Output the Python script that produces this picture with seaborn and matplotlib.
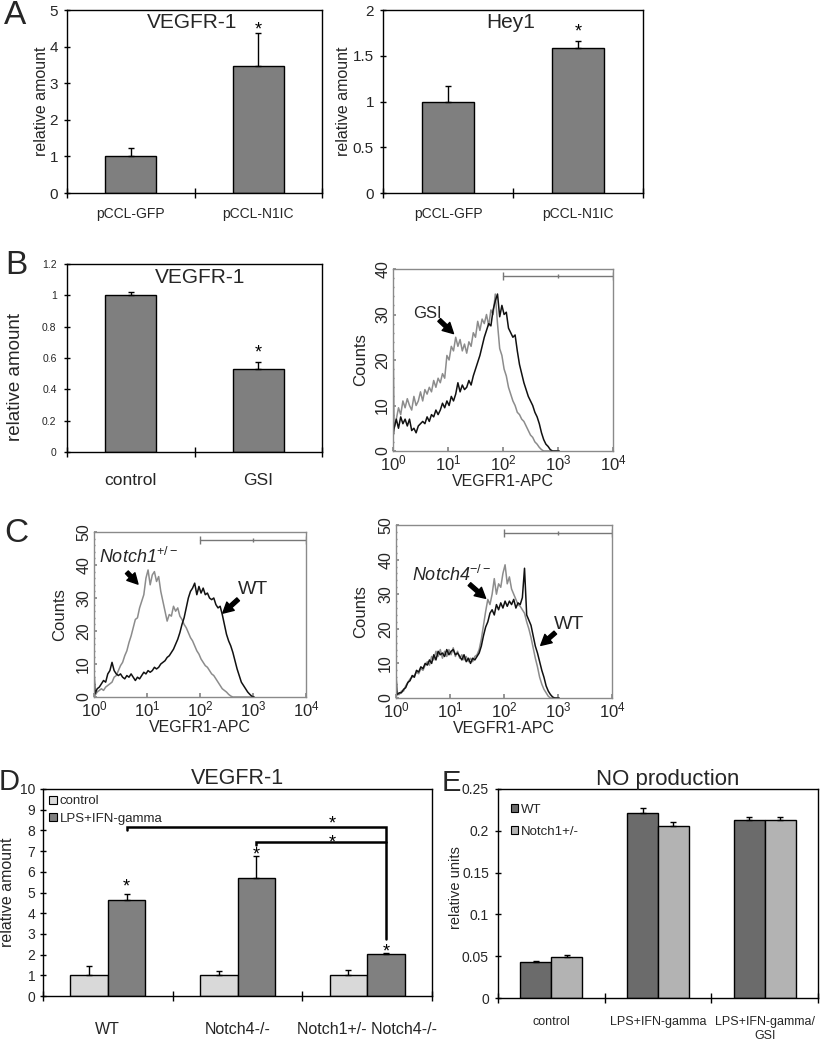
import numpy as np
import pandas as pd
import seaborn as sns
import matplotlib
matplotlib.use("Agg")
import matplotlib.pyplot as plt
from matplotlib.patches import Patch
from matplotlib.ticker import FuncFormatter, FixedLocator, LogLocator, NullFormatter, MultipleLocator
from matplotlib import font_manager

# ---------------- data ----------------
a_cats = ["pCCL-GFP", "pCCL-N1IC"]
a_vegfr1 = [1.00, 3.46]
a_vegfr1_err = [0.23, 0.90]
a_hey1 = [1.00, 1.59]
a_hey1_err = [0.17, 0.07]

b_cats = ["control", "GSI"]
b_vegfr1 = [1.00, 0.53]
b_vegfr1_err = [0.02, 0.045]

# flow-cytometry histograms: channel position in decades (10^x) and counts
hist_x_dec = [0.00, 0.02, 0.06, 0.10, 0.14, 0.18, 0.22, 0.26, 0.30, 0.34, 0.38, 0.42, 0.46,
              0.50, 0.54, 0.58, 0.62, 0.66, 0.70, 0.74, 0.78, 0.82, 0.86, 0.90, 0.94, 0.98,
              1.02, 1.06, 1.10, 1.14, 1.18, 1.22, 1.26, 1.30, 1.34, 1.38, 1.42, 1.46, 1.50,
              1.54, 1.58, 1.62, 1.66, 1.70, 1.74, 1.78, 1.82, 1.86, 1.90, 1.94, 1.98, 2.02,
              2.06, 2.10, 2.14, 2.18, 2.22, 2.26, 2.30, 2.34, 2.38, 2.42, 2.46, 2.50, 2.54,
              2.58, 2.62, 2.66, 2.70, 2.74, 2.78, 2.82, 2.86, 2.90, 2.94, 2.98, 3.02]

b_gsi_counts = [27, 5, 7, 9.5, 8, 11, 9.5, 11.5, 10, 9, 12, 10, 11,
                13, 11, 13.5, 12.5, 14, 13, 15.5, 14, 16, 15, 17, 16, 21,
                20, 23, 22, 25, 23, 24.5, 22, 23.5, 21.5, 24, 23, 26, 25,
                28.5, 26.5, 29, 28, 30, 27.5, 31, 30, 34.5, 28, 22.5, 21, 18,
                16.5, 14, 12.5, 11, 10, 8.5, 8, 7, 6.5, 5.5, 4.5, 3.5, 3,
                2, 1.5, 0.8, 0.3, 0, 0, 0, 0, 0, 0, 0, 0]
b_ctrl_counts = [3, 5, 7, 5, 7.5, 6, 7, 5.5, 7, 4.5, 5, 4, 5.5,
                 6, 6.5, 6, 7.5, 6.5, 8, 7.5, 9, 8, 9, 10.5, 9.5, 11,
                 10, 12, 11, 12.5, 15, 13, 14.5, 13.5, 14, 15.5, 14.5, 16.5, 18,
                 19.5, 21, 23, 25, 26.5, 28, 27.5, 31, 33, 34.5, 29.5, 32, 30,
                 30.5, 27, 26, 25, 25.5, 22, 19, 17, 15, 13.5, 12, 11, 10,
                 8.5, 7.5, 6, 4, 2.5, 1.5, 1, 0.3, 0, 0, 0, 0]

c1_notch1_counts = [0.5, 0.5, 1.5, 2, 2.5, 2, 3, 3.5, 4, 4.5, 6, 6.5, 8,
                    9.5, 10.5, 12.5, 14, 16.5, 18.5, 21, 23.5, 24, 27, 29, 31, 36,
                    38.5, 34, 37, 38, 35, 36.5, 32, 29, 26, 23, 25, 24.5, 27.5,
                    26, 27, 24.5, 23.5, 22, 21, 19.5, 18, 17, 15.5, 14, 13, 11.5,
                    10.5, 9.5, 9, 8, 7, 6.5, 5.5, 4.5, 3.5, 2.5, 2, 1.5, 0.8,
                    0.3, 0, 0, 0, 0, 0, 0, 0, 0, 0, 0, 0]
c1_wt_counts = [8, 1, 2.5, 3, 4, 5, 4.5, 7, 8, 10.5, 8, 7, 6.5,
                7, 6, 5.5, 6.5, 6, 7, 6, 5, 6, 5.5, 6.5, 7.5, 7,
                8, 7.5, 8, 9, 8.5, 9, 10, 10.5, 11, 12, 12.5, 13.5, 14.5,
                16, 17.5, 19.5, 22, 24, 27, 30, 32, 33, 34.5, 31, 33.5, 31.5,
                33, 31, 31.5, 30, 29.5, 30, 28, 27, 27.5, 25, 22, 19, 17,
                15.5, 13.5, 11, 8.5, 6.5, 4.5, 3.5, 2.5, 1.5, 0.8, 0.2, 0]

c4_notch4_counts = [0.5, 1, 1, 2, 2, 3.5, 4.5, 5.5, 6, 6.5, 7.5, 7, 8.5,
                    8, 9.5, 10.5, 9.5, 12, 11, 13.5, 12, 14, 11.5, 13.5, 12, 14,
                    12.5, 14.5, 12, 13.5, 11.5, 12.5, 11, 12, 10.5, 11.5, 10.5, 12, 12.5,
                    14, 17, 21, 25, 28.5, 27, 30, 34.5, 30, 33, 32, 36, 38.5,
                    33, 35, 31.5, 30, 28.5, 27, 26.5, 25.5, 24.5, 22, 20, 17.5, 14.5,
                    11.5, 9, 6, 4, 2.5, 1.5, 0.5, 0, 0, 0, 0, 0]
c4_wt_counts = [7, 1, 1.5, 1.5, 2.5, 3, 4.5, 5, 6.5, 6, 8, 7.5, 9,
                8.5, 10, 9.5, 11, 10, 12.5, 11, 13.5, 12.5, 13, 12, 14, 12.5,
                13.5, 14, 12.5, 13, 12, 11, 12.5, 10.5, 11.5, 10, 11.5, 11, 12,
                13, 15, 18, 20.5, 22, 24.5, 25.5, 24, 27, 25.5, 27.5, 26, 28,
                26.5, 28, 27, 28.5, 26, 27.5, 27, 29, 37.5, 24, 22.5, 21, 18,
                15, 13, 10.5, 8, 6, 3.5, 2, 1, 0.3, 0, 0, 0]
gate_range = [1e2, 1e4]

d_genotypes = ["WT", "Notch4-/-", "Notch1+/- Notch4-/-"]
d_treatments = ["control", "LPS+IFN-gamma"]
d_control = [1.00, 1.00, 1.00]
d_control_err = [0.47, 0.22, 0.27]
d_lps = [4.66, 5.70, 2.02]
d_lps_err = [0.28, 1.05, 0.04]

e_conditions = ["control", "LPS+IFN-gamma", "LPS+IFN-gamma/\nGSI"]
e_genotypes = ["WT", "Notch1+/-"]
e_wt = [0.043, 0.221, 0.213]
e_wt_err = [0.001, 0.006, 0.004]
e_notch1 = [0.049, 0.206, 0.213]
e_notch1_err = [0.002, 0.005, 0.003]

# ---------------- style ----------------
sns.set_theme(style="ticks")
plt.rcParams["font.family"] = ["Liberation Sans", "DejaVu Sans"]
plt.rcParams["mathtext.fontset"] = "custom"
plt.rcParams["mathtext.rm"] = "Liberation Sans"
plt.rcParams["mathtext.it"] = "Liberation Sans:italic"
plt.rcParams["axes.linewidth"] = 1.0
plt.rcParams["axes.edgecolor"] = "black"

_names = {f.name for f in font_manager.fontManager.ttflist}
HAS_NARROW = "Liberation Sans Narrow" in _names


def cond(size):
    """condensed text properties (width-matched)"""
    if HAS_NARROW:
        return dict(fontfamily="Liberation Sans Narrow", fontsize=size / 0.82)
    return dict(fontfamily="Liberation Sans", fontsize=size)


W, H = 822, 1050
fig = plt.figure(figsize=(W / 100, H / 100), dpi=100)
fig.patch.set_facecolor("white")


def rect(x0, y0, x1, y1):
    return [x0 / W, 1 - y1 / H, (x1 - x0) / W, (y1 - y0) / H]


def fmt_g(v, p):
    return f"{v:g}"


def star(ax, x, y, dy_px, size=13):
    dy_pt = dy_px * 0.72 - 0.58 * size
    ax.annotate("*", xy=(x, y), xytext=(0, dy_pt), textcoords="offset points",
                ha="center", va="baseline", fontsize=size, color="black")


def add_errs(ax, container, vals, errs, cap=2.5):
    xs = [p.get_x() + p.get_width() / 2 for p in container]
    ax.errorbar(xs, vals, yerr=[[0] * len(vals), errs], fmt="none", ecolor="black",
                elinewidth=1, capsize=cap, capthick=1, zorder=3)
    return xs


def style_bar_axes(ax, cats, ylim, yticks, ytick_fs, xfont, xpad, ypad):
    n = len(cats)
    ax.set_xlim(-0.5, n - 0.5)
    ax.set_ylim(*ylim)
    ax.set_yticks(yticks)
    ax.yaxis.set_major_formatter(FuncFormatter(fmt_g))
    ax.set_xticks(range(n), labels=cats, **xfont)
    ax.set_xticks([i - 0.5 for i in range(n + 1)], minor=True)
    ax.tick_params(axis="x", which="major", length=0, pad=xpad)
    ax.tick_params(axis="x", which="minor", length=7, width=1, direction="inout", color="black")
    ax.tick_params(axis="y", which="major", length=5, width=1, direction="inout", pad=ypad,
                   labelsize=ytick_fs, color="black")
    for s in ax.spines.values():
        s.set_visible(True)
        s.set_color("black")
        s.set_linewidth(1)
    ax.set_xlabel("")
    ax.set_ylabel("")


def simple_bar_panel(r, cats, vals, errs, ylim, yticks, title, title_xy, ylabel, ylab_xy,
                     ylab_fs, ytick_fs, xfont, xpad, ypad, star_idx, star_dy):
    ax = fig.add_axes(r)
    df = pd.DataFrame({"cat": cats, "val": vals})
    sns.barplot(data=df, x="cat", y="val", order=cats, color="#7f7f7f", saturation=1,
                width=0.4, edgecolor="black", linewidth=1, errorbar=None, ax=ax)
    xs = add_errs(ax, ax.containers[0], vals, errs)
    style_bar_axes(ax, cats, ylim, yticks, ytick_fs, xfont, xpad, ypad)
    ax.text(title_xy[0], title_xy[1], title, transform=ax.transAxes, ha="center", va="center",
            fontsize=15)
    ax.set_ylabel(ylabel, fontsize=ylab_fs)
    ax.yaxis.set_label_coords(*ylab_xy)
    star(ax, xs[star_idx], vals[star_idx] + errs[star_idx], star_dy)
    return ax


# ---------------- panel A ----------------
simple_bar_panel(rect(67, 10, 322, 193), a_cats, a_vegfr1, a_vegfr1_err, (0, 5), range(0, 6),
                 "VEGFR-1", (0.49, 0.93), "relative amount", (-0.07, 0.5), 11.5, 11,
                 cond(10), 10, 4, 1, 9)
simple_bar_panel(rect(383, 10, 643, 193), a_cats, a_hey1, a_hey1_err, (0, 2),
                 [0, 0.5, 1, 1.5, 2], "Hey1", (0.49, 0.93), "relative amount", (-0.125, 0.5),
                 11.5, 11, cond(10), 10, 4, 1, 15)

# ---------------- panel B (bar) ----------------
simple_bar_panel(rect(67, 264, 322, 452), b_cats, b_vegfr1, b_vegfr1_err, (0, 1.2),
                 [0, 0.2, 0.4, 0.6, 0.8, 1.0, 1.2], "VEGFR-1", (0.52, 0.93), "relative amount",
                 (-0.17, 0.40), 13.5, 7.5, dict(fontsize=12.5), 15, 5, 1, 15)


# ---------------- histograms ----------------
def hist_panel(r, curves, ymax, ytick_step, gate_y):
    ax = fig.add_axes(r)
    xs = np.power(10.0, hist_x_dec)
    for counts, color in curves:
        sns.lineplot(x=xs, y=counts, color=color, linewidth=1.1, estimator=None, sort=False,
                     ax=ax)
    ax.set_xscale("log")
    ax.set_xlim(1, 1e4)
    ax.set_ylim(0, ymax)
    ax.xaxis.set_major_locator(FixedLocator([1, 10, 100, 1000, 10000]))
    ax.set_xticklabels([r"$10^{0}$", r"$10^{1}$", r"$10^{2}$", r"$10^{3}$", r"$10^{4}$"])
    ax.xaxis.set_minor_locator(LogLocator(base=10, subs=range(2, 10)))
    ax.xaxis.set_minor_formatter(NullFormatter())
    ax.yaxis.set_major_locator(MultipleLocator(ytick_step))
    ax.yaxis.set_minor_locator(MultipleLocator(2))
    ax.tick_params(axis="x", which="major", direction="in", length=3, color="#888888",
                   labelsize=12, pad=2)
    ax.tick_params(axis="x", which="minor", direction="in", length=2, color="#888888")
    ax.tick_params(axis="y", which="major", direction="in", length=2, color="#888888",
                   labelsize=11.5, labelrotation=90, pad=2)
    ax.tick_params(axis="y", which="minor", direction="in", length=1, color="#888888")
    for lbl in ax.get_yticklabels():
        lbl.set_va("center")
    for s in ax.spines.values():
        s.set_visible(True)
        s.set_color("#8a8a8a")
        s.set_linewidth(1)
    ax.set_xlabel("VEGFR1-APC", fontsize=11.5, labelpad=0)
    ax.set_ylabel("Counts", fontsize=12, labelpad=2)
    # gate marker
    ax.plot(gate_range, [gate_y, gate_y], color="#777777", lw=1)
    ax.plot(gate_range, [gate_y, gate_y], ls="none", marker="|", ms=6, mew=1, color="#777777")
    ax.plot([np.sqrt(gate_range[0] * gate_range[1])], [gate_y], ls="none", marker="|", ms=3,
            mew=1, color="#777777")
    return ax


ARROW = dict(arrowstyle="simple,head_length=0.75,head_width=0.8,tail_width=0.28",
             color="black", shrinkA=0, shrinkB=0)


def arrow(ax, tail, tip):
    ax.annotate("", xy=(10 ** tip[0], tip[1]), xytext=(10 ** tail[0], tail[1]),
                arrowprops=ARROW, fontsize=10)


GRAY_LINE = "#8c8c8c"
BLACK_LINE = "#111111"

axb = hist_panel(rect(393, 269, 613, 451), [(b_gsi_counts, GRAY_LINE), (b_ctrl_counts, BLACK_LINE)],
                 40, 10, 38.5)
axb.text(10 ** 0.36, 30.3, "GSI", fontsize=12, ha="left", va="center")
arrow(axb, (0.84, 28.8), (1.1, 25.8))
axb.yaxis.set_label_coords(-0.115, 0.5)

axc1 = hist_panel(rect(94, 532, 306, 697), [(c1_notch1_counts, GRAY_LINE), (c1_wt_counts, BLACK_LINE)],
                  50, 10, 47.5)
axc1.text(10 ** 0.1, 42.5, r"Notch1$^{+/-}$", fontsize=13, style="italic", ha="left", va="center")
arrow(axc1, (0.62, 37.8), (0.83, 34.2))
axc1.text(10 ** 2.72, 32.5, "WT", fontsize=14, ha="left", va="center")
arrow(axc1, (2.72, 29.6), (2.43, 25.4))
axc1.yaxis.set_label_coords(-0.128, 0.5)

axc4 = hist_panel(rect(396, 525, 612, 698), [(c4_notch4_counts, GRAY_LINE), (c4_wt_counts, BLACK_LINE)],
                  50, 10, 47.7)
axc4.text(10 ** 0.3, 35.5, r"Notch4$^{-/-}$", fontsize=13, style="italic", ha="left", va="center")
arrow(axc4, (1.36, 32.9), (1.66, 28.8))
axc4.text(10 ** 2.93, 21.2, "WT", fontsize=14, ha="left", va="center")
arrow(axc4, (2.95, 18.9), (2.68, 15.2))
axc4.yaxis.set_label_coords(-0.13, 0.5)

# ---------------- panel D ----------------
axd = fig.add_axes(rect(43, 789, 432, 996))
d_df = pd.DataFrame({
    "genotype": d_genotypes * 2,
    "treatment": [d_treatments[0]] * 3 + [d_treatments[1]] * 3,
    "value": d_control + d_lps,
})
d_colors = ["#d9d9d9", "#808080"]
sns.barplot(data=d_df, x="genotype", y="value", hue="treatment", order=d_genotypes,
            hue_order=d_treatments, palette=d_colors, saturation=1, width=0.58,
            edgecolor="black", linewidth=1, errorbar=None, legend=False, ax=axd)
add_errs(axd, axd.containers[0], d_control, d_control_err)
d_lps_x = add_errs(axd, axd.containers[1], d_lps, d_lps_err)
style_bar_axes(axd, d_genotypes, (0, 10), range(0, 11), 10, cond(11.5), 19, 3)
axd.set_ylabel("relative amount", fontsize=11.5)
axd.yaxis.set_label_coords(-0.072, 0.5)
axd.set_title("VEGFR-1", fontsize=15.5, pad=1)
star(axd, d_lps_x[0], d_lps[0] + d_lps_err[0], 13)
star(axd, d_lps_x[1], d_lps[1] + d_lps_err[1], 7)
star(axd, d_lps_x[2], d_lps[2] + d_lps_err[2], 7)
# comparison brackets
axd.plot([d_lps_x[0], d_lps_x[0], d_lps_x[2], d_lps_x[2]], [8.0, 8.15, 8.15, 2.75],
         color="black", lw=1.8, solid_joinstyle="miter")
axd.plot([d_lps_x[1], d_lps_x[1], d_lps_x[2]], [7.3, 7.45, 7.45], color="black", lw=1.8,
         solid_joinstyle="miter")
star(axd, 1.73, 8.15, 9)
star(axd, 1.73, 7.45, 5)
d_handles = [Patch(facecolor=c, edgecolor="black", linewidth=0.8) for c in d_colors]
legd = axd.legend(d_handles, d_treatments, loc="upper left", bbox_to_anchor=(0.012, 0.975),
                  frameon=False, handlelength=0.6, handleheight=0.6, handletextpad=0.2,
                  labelspacing=0.4, borderaxespad=0, borderpad=0.1,
                  prop=dict(family=cond(9.5)["fontfamily"], size=cond(9.5)["fontsize"]))

# ---------------- panel E ----------------
axe = fig.add_axes(rect(498, 789, 818, 998))
e_df = pd.DataFrame({
    "condition": e_conditions * 2,
    "genotype": [e_genotypes[0]] * 3 + [e_genotypes[1]] * 3,
    "value": e_wt + e_notch1,
})
e_colors = ["#6b6b6b", "#b3b3b3"]
sns.barplot(data=e_df, x="condition", y="value", hue="genotype", order=e_conditions,
            hue_order=e_genotypes, palette=e_colors, saturation=1, width=0.58,
            edgecolor="black", linewidth=1, errorbar=None, legend=False, ax=axe)
add_errs(axe, axe.containers[0], e_wt, e_wt_err)
add_errs(axe, axe.containers[1], e_notch1, e_notch1_err)
style_bar_axes(axe, e_conditions, (0, 0.25), [0, 0.05, 0.1, 0.15, 0.2, 0.25], 10, cond(9),
               13, 4)
axe.set_ylabel("relative units", fontsize=10.5)
axe.yaxis.set_label_coords(-0.11, 0.53)
axe.text(0.53, 1.045, "NO production", transform=axe.transAxes, ha="center", va="center",
         fontsize=16)
e_handles = [Patch(facecolor=c, edgecolor="black", linewidth=0.8) for c in e_colors]
axe.legend(e_handles, e_genotypes, loc="upper left", bbox_to_anchor=(0.035, 0.935),
           frameon=False, handlelength=0.6, handleheight=0.6, handletextpad=0.2,
           labelspacing=0.75, borderaxespad=0, borderpad=0.1,
           prop=dict(family=cond(9.5)["fontfamily"], size=cond(9.5)["fontsize"]))

# ---------------- panel letters ----------------
for letter, (px, py, fs) in {"A": (15, 16, 24), "B": (16, 265, 24), "C": (16, 533, 24),
                             "D": (9, 782, 21), "E": (451, 783, 21)}.items():
    fig.text(px / W, 1 - py / H, letter, fontsize=fs, ha="center", va="center")

fig.savefig("out.png", dpi=100, facecolor="white")
